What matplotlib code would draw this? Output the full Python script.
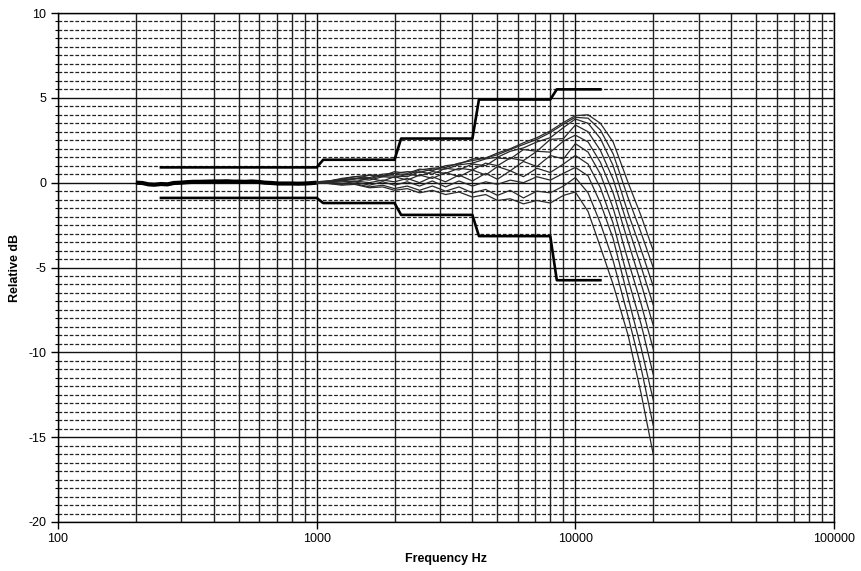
import numpy as np
import matplotlib
matplotlib.use('Agg')
import matplotlib.pyplot as plt
from matplotlib.ticker import FixedLocator, MultipleLocator, NullFormatter

plt.rcParams['font.family'] = ['Liberation Sans', 'DejaVu Sans']
plt.rcParams['axes.unicode_minus'] = False

# Low frequency part, all responses sit on top of each other here
low_freq = [200, 212, 224, 236, 250, 265, 280, 300, 315, 335, 355, 375, 400, 425, 450,
            475, 500, 530, 560, 600, 630, 670, 710, 750, 800, 850, 900, 950, 1000]
low_db = [0.0, -0.02, -0.1, -0.12, -0.08, -0.1, -0.02, 0.0, 0.03, 0.05, 0.05, 0.06, 0.07, 0.07, 0.08,
          0.06, 0.06, 0.05, 0.07, 0.04, 0.0, -0.02, -0.05, -0.05, -0.05, -0.06, -0.05, -0.03, 0.0]

# High frequency part, one list per measured response
freq = [1000, 1120, 1250, 1400, 1600, 1800, 2000, 2240, 2500, 2800, 3150, 3550, 4000, 4500,
        5000, 5600, 6300, 7100, 8000, 9000, 10000, 11200, 12500, 14000, 16000, 18000, 20000]
c0 = [0.05, 0.10, 0.25, 0.35, 0.45, 0.40, 0.65, 0.55, 0.80, 0.70, 1.00, 1.10, 1.40, 1.45,
      1.75, 2.00, 2.35, 2.65, 3.05, 3.55, 3.95, 4.00, 3.50, 2.40, 0.00, -2.00, -4.00]
c1 = [0.05, 0.10, 0.20, 0.35, 0.30, 0.50, 0.55, 0.45, 0.75, 0.85, 0.90, 1.15, 1.30, 1.45,
      1.65, 1.95, 2.25, 2.55, 2.95, 3.45, 3.85, 3.80, 3.10, 1.70, -0.90, -3.00, -5.00]
c2 = [0.00, 0.10, 0.20, 0.20, 0.45, 0.35, 0.55, 0.65, 0.60, 0.80, 0.80, 1.05, 1.15, 1.40,
      1.50, 1.85, 2.05, 2.40, 2.65, 3.25, 3.75, 3.50, 2.60, 1.00, -1.80, -4.00, -6.10]
c3 = [0.00, 0.05, 0.15, 0.25, 0.25, 0.40, 0.40, 0.35, 0.65, 0.50, 0.85, 0.75, 1.10, 1.00,
      1.45, 1.40, 1.95, 1.85, 2.55, 2.60, 3.40, 3.00, 1.90, 0.20, -2.60, -5.00, -7.20]
c4 = [0.05, 0.05, 0.10, 0.25, 0.15, 0.35, 0.30, 0.50, 0.40, 0.65, 0.55, 0.85, 0.75, 1.15,
      1.00, 1.45, 1.30, 1.85, 1.80, 2.45, 2.80, 2.40, 1.20, -0.60, -3.50, -6.00, -8.40]
c5 = [0.00, 0.05, 0.15, 0.05, 0.25, 0.10, 0.35, 0.15, 0.45, 0.25, 0.60, 0.35, 0.75, 0.45,
      0.95, 0.70, 1.25, 0.95, 1.60, 1.40, 2.30, 1.80, 0.50, -1.50, -4.60, -7.20, -9.80]
c6 = [0.00, 0.00, 0.05, 0.10, 0.00, 0.15, 0.05, 0.25, 0.00, 0.35, 0.05, 0.45, 0.10, 0.55,
      0.20, 0.70, 0.35, 0.85, 0.60, 1.10, 1.60, 1.10, -0.30, -2.40, -5.70, -8.40, -11.30]
c7 = [0.00, 0.00, -0.05, 0.05, -0.15, 0.05, -0.15, 0.05, -0.20, 0.10, -0.25, 0.10, -0.20, 0.05,
      -0.10, 0.15, 0.00, 0.35, 0.15, 0.55, 0.90, 0.40, -1.20, -3.30, -6.80, -9.80, -12.80]
c8 = [0.00, -0.05, -0.10, -0.05, -0.25, -0.15, -0.35, -0.20, -0.45, -0.20, -0.50, -0.25, -0.60, -0.40,
      -0.75, -0.45, -0.90, -0.50, -0.60, -0.20, 0.30, -0.60, -2.40, -4.60, -7.90, -11.00, -14.30]
c9 = [0.00, -0.05, -0.15, -0.10, -0.30, -0.25, -0.45, -0.35, -0.60, -0.45, -0.70, -0.55, -0.85, -0.70,
      -1.05, -0.95, -1.25, -1.05, -1.20, -0.75, -0.55, -1.70, -3.80, -6.00, -9.00, -12.50, -16.00]
curves = [c0, c1, c2, c3, c4, c5, c6, c7, c8, c9]

# Tolerance limits
tol_freq = [250, 1000, 1060, 2000, 2120, 4000, 4240, 8000, 8480, 12500]
tol_hi = [0.9, 0.9, 1.35, 1.35, 2.6, 2.6, 4.9, 4.9, 5.5, 5.5]
tol_lo = [-0.9, -0.9, -1.2, -1.2, -1.9, -1.9, -3.15, -3.15, -5.75, -5.75]

x_ticks = [100, 1000, 10000, 100000]
x_labels = ['100', '1000', '10000', '100000']
y_ticks = [-20, -15, -10, -5, 0, 5, 10]

fig = plt.figure(figsize=(8.62, 5.71), dpi=100)
ax = fig.add_axes([58/862, 1-522/571, (834-58)/862, (522-13)/571])
ax.set_xscale('log')
ax.set_xlim(100, 100000)
ax.set_ylim(-20, 10)

# grid
ax.xaxis.set_major_locator(FixedLocator(x_ticks))
ax.xaxis.set_minor_locator(FixedLocator([m * 10**d for d in range(2, 5) for m in range(2, 10)]))
ax.xaxis.set_minor_formatter(NullFormatter())
ax.set_xticklabels(x_labels)
ax.yaxis.set_major_locator(FixedLocator(y_ticks))
ax.yaxis.set_minor_locator(MultipleLocator(0.5))
ax.grid(which='major', axis='both', color='#111111', lw=1.0)
ax.grid(which='minor', axis='x', color='#222222', lw=1.0)
ax.grid(which='minor', axis='y', color='#222222', lw=0.9, linestyle=(0, (3, 1.5)))
ax.set_axisbelow(True)

ax.tick_params(which='major', direction='out', length=5, width=1, labelsize=9, colors='black')
ax.tick_params(axis='x', which='major', pad=3)
ax.tick_params(axis='x', which='minor', length=0)
ax.tick_params(axis='y', which='minor', direction='out', length=2.5, width=0.8)
for s in ax.spines.values():
    s.set_color('black')
    s.set_linewidth(1.0)

# data
ax.plot(low_freq, low_db, color='black', lw=3.0, solid_capstyle='butt')
for c in curves:
    ax.plot(freq, c, color='#2a2a2a', lw=0.9)
ax.plot(tol_freq, tol_hi, color='black', lw=1.9)
ax.plot(tol_freq, tol_lo, color='black', lw=1.9)

ax.set_xlabel('Frequency Hz', fontsize=9, fontweight='bold', labelpad=6)
ax.set_ylabel('Relative dB', fontsize=9, fontweight='bold', labelpad=5)

fig.savefig('out.png', dpi=100)
